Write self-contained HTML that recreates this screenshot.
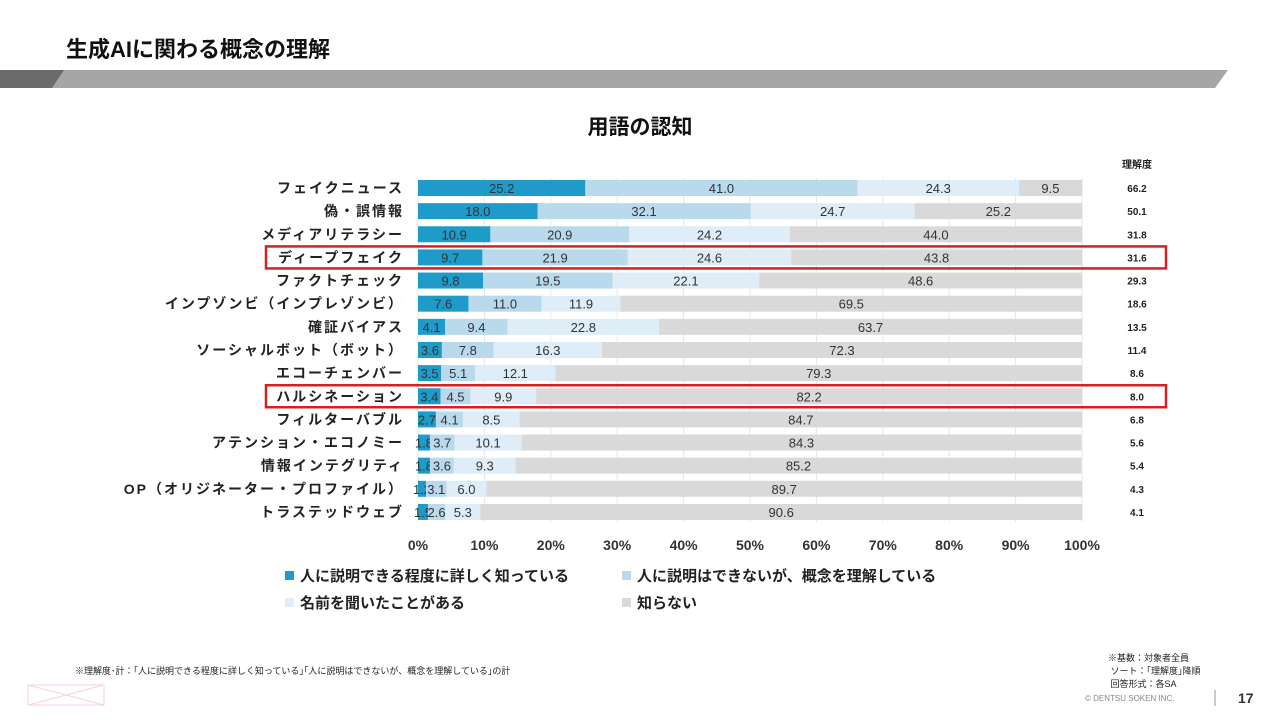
<!DOCTYPE html>
<html><head><meta charset="utf-8"><style>
body{margin:0;width:1280px;height:720px;background:#fff;position:relative;overflow:hidden;font-family:"Liberation Sans","Noto Sans CJK JP",sans-serif;}
.abs{position:absolute;}
</style></head><body>
<div class="abs" style="left:66px;top:32px;font-size:22px;font-weight:bold;color:#111;">生成AIに関わる概念の理解</div>
<svg class="abs" style="left:0;top:0" width="1280" height="720">
<polygon points="0,70 1228,70 1215,88 0,88" fill="#a6a6a6"/>
<polygon points="0,70 64,70 52,88 0,88" fill="#6b6b6b"/>
<rect x="28" y="685" width="76" height="20" fill="none" stroke="#f3d6d6"/>
<line x1="28" y1="685" x2="104" y2="705" stroke="#f3d6d6"/><line x1="28" y1="705" x2="104" y2="685" stroke="#f3d6d6"/>
<line x1="1215" y1="690" x2="1215" y2="706" stroke="#999"/>
</svg>
<div class="abs" style="left:0;width:1280px;text-align:center;top:111px;font-size:21px;font-weight:bold;color:#111;">用語の認知</div>
<svg id="chart" class="abs" style="left:0;top:0" width="1280" height="720"></svg>
<div class="abs" style="left:75px;top:664px;font-size:9px;color:#222;">※理解度･計：｢人に説明できる程度に詳しく知っている｣｢人に説明はできないが、概念を理解している｣の計</div>
<div class="abs" style="left:1108px;top:652px;font-size:9px;line-height:13px;color:#222;">※基数：対象者全員<br>&nbsp;ソート：｢理解度｣降順<br>&nbsp;回答形式：各SA</div>
<div class="abs" style="left:1085px;top:694px;font-size:8px;color:#888;">© DENTSU SOKEN INC.</div>
<div class="abs" style="left:1238px;top:690px;font-size:14px;font-weight:bold;color:#333;">17</div>
<script>
const categories=["フェイクニュース","偽・誤情報","メディアリテラシー","ディープフェイク","ファクトチェック","インプゾンビ（インプレゾンビ）","確証バイアス","ソーシャルボット（ボット）","エコーチェンバー","ハルシネーション","フィルターバブル","アテンション・エコノミー","情報インテグリティ","OP（オリジネーター・プロファイル）","トラステッドウェブ"];
const s1=[25.2,18.0,10.9,9.7,9.8,7.6,4.1,3.6,3.5,3.4,2.7,1.8,1.8,1.2,1.5];
const s2=[41.0,32.1,20.9,21.9,19.5,11.0,9.4,7.8,5.1,4.5,4.1,3.7,3.6,3.1,2.6];
const s3=[24.3,24.7,24.2,24.6,22.1,11.9,22.8,16.3,12.1,9.9,8.5,10.1,9.3,6.0,5.3];
const s4=[9.5,25.2,44.0,43.8,48.6,69.5,63.7,72.3,79.3,82.2,84.7,84.3,85.2,89.7,90.6];
const understanding=["66.2","50.1","31.8","31.6","29.3","18.6","13.5","11.4","8.6","8.0","6.8","5.6","5.4","4.3","4.1"];
const xTicks=[0,10,20,30,40,50,60,70,80,90,100];
const seriesNames=["人に説明できる程度に詳しく知っている","人に説明はできないが、概念を理解している","名前を聞いたことがある","知らない"];
const highlighted=["ディープフェイク","ハルシネーション"];
const colors=["#1f9bc9","#b9d9ec","#deedf7","#d9d9d9"];
const NS="http://www.w3.org/2000/svg",svg=document.getElementById('chart');
const x0=418,x1=1082,y0=188,step=23.14,bh=16;
const X=v=>x0+(x1-x0)*v/100, Y=i=>y0+i*step;
function mk(t,a,p){const e=document.createElementNS(NS,t);for(const k in a)e.setAttribute(k,a[k]);(p||svg).appendChild(e);return e;}
xTicks.forEach(t=>{const l=mk('line',{x1:X(t),x2:X(t),y1:178,y2:522,stroke:'#e6e6e6'});


const tx=mk('text',{x:X(t),y:550,'text-anchor':'middle','font-size':14,'font-weight':'bold',fill:'#333'});tx.textContent=t+'%';

});
const series=[s1,s2,s3,s4];
categories.forEach((c,i)=>{
 const y=Y(i);
 const lb=mk('text',{x:404,y:y+5,'text-anchor':'end','font-size':14,'font-weight':'bold',fill:'#222','letter-spacing':2});lb.textContent=c;
 
 
 let acc=0;
 series.forEach((s,k)=>{const v=s[i];
  const r=mk('rect',{x:X(acc),y:y-bh/2,width:X(acc+v)-X(acc),height:bh,fill:colors[k]});
  
  
  const t=mk('text',{x:X(acc+v/2),y:y+5,'text-anchor':'middle','font-size':13,fill:'#333'});t.textContent=v.toFixed(1);
  
  
  acc+=v;});
 const u=mk('text',{x:1137,y:y+4,'text-anchor':'middle','font-size':10,'font-weight':'bold',fill:'#222'});u.textContent=understanding[i];
 
 
 if(highlighted.includes(c)){const h=mk('rect',{x:266,y:y-11,width:900,height:22,fill:'none',stroke:'#d42020','stroke-width':2.5});
  
  }
});
const uh=mk('text',{x:1137,y:168,'text-anchor':'middle','font-size':10,'font-weight':'bold',fill:'#222'});uh.textContent='理解度';


const lp=[[285,576],[622,576],[285,603],[622,603]];
seriesNames.forEach((n,k)=>{const r=mk('rect',{x:lp[k][0],y:lp[k][1]-5,width:9,height:9,fill:colors[k]});
 
 
 const t=mk('text',{x:lp[k][0]+15,y:lp[k][1]+5,'font-size':15,'font-weight':'bold',fill:'#222'});t.textContent=n;
 
 });
</script>
</body></html>
